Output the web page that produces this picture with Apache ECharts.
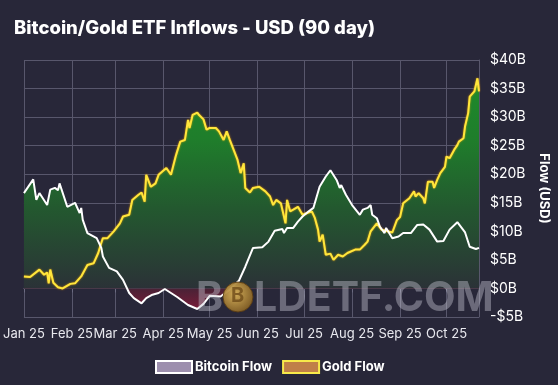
<!DOCTYPE html>
<html>
<head>
<meta charset="utf-8">
<script src="https://cdn.jsdelivr.net/npm/echarts@6/dist/echarts.min.js"></script>
<style>
html,body{margin:0;padding:0;background:#282739;}
#chart{width:558px;height:385px;}
</style>
</head>
<body>
<div id="chart"></div>
<script>
// ---- Data (90-day rolling ETF flows, billions USD) ----
var btcDates = ['2025-01-01','2025-01-07','2025-01-09','2025-01-11','2025-01-16','2025-01-18','2025-01-21','2025-01-23','2025-01-24','2025-01-29',
  '2025-02-03','2025-02-06','2025-02-07','2025-02-08','2025-02-11','2025-02-17','2025-02-20','2025-02-21','2025-02-25','2025-03-02',
  '2025-03-06','2025-03-10','2025-03-13','2025-03-18','2025-03-21','2025-03-25','2025-03-29','2025-04-02','2025-04-06','2025-04-10',
  '2025-04-17','2025-04-23','2025-04-27','2025-05-01','2025-05-08','2025-05-14','2025-05-20','2025-05-24','2025-05-29','2025-06-04',
  '2025-06-08','2025-06-12','2025-06-17','2025-06-18','2025-06-20','2025-06-24','2025-06-27','2025-06-30','2025-07-04','2025-07-07',
  '2025-07-11','2025-07-15','2025-07-18','2025-07-22','2025-07-24','2025-07-25','2025-07-28','2025-08-01','2025-08-06','2025-08-08',
  '2025-08-11','2025-08-13','2025-08-14','2025-08-17','2025-08-19','2025-08-22','2025-08-23','2025-08-27','2025-08-31','2025-09-03',
  '2025-09-08','2025-09-12','2025-09-16','2025-09-20','2025-09-25','2025-09-29','2025-10-03','2025-10-08','2025-10-13','2025-10-16',
  '2025-10-20','2025-10-22'];
var btcValues = [16.7,19.1,15.5,16.7,14.6,17.3,17.6,17.2,18.4,14.3,
  15.0,13.2,14.1,12.0,9.7,8.8,7.1,5.6,3.6,3.0,
  1.5,-0.8,-1.7,-2.6,-1.7,-1.1,-0.8,-0.1,-0.8,-1.5,
  -2.9,-3.6,-2.7,-1.3,-1.4,-0.2,1.4,3.8,7.1,7.2,
  8.2,10.1,10.4,9.7,10.6,10.6,11.7,12.6,13.5,14.1,
  17.8,19.6,20.7,19.0,17.6,18.1,16.4,14.6,12.9,13.8,
  14.1,14.6,12.9,12.3,10.8,9.7,10.6,8.8,9.1,9.7,
  9.7,11.1,11.2,10.3,8.2,8.3,10.3,11.6,9.8,7.3,
  6.9,7.1];

var goldDates = ['2025-01-01','2025-01-05','2025-01-11','2025-01-14','2025-01-16','2025-01-17','2025-01-18','2025-01-20','2025-01-23','2025-01-26',
  '2025-01-31','2025-02-03','2025-02-07','2025-02-11','2025-02-15','2025-02-18','2025-02-20','2025-02-21','2025-02-24','2025-02-28',
  '2025-03-04','2025-03-06','2025-03-10','2025-03-12','2025-03-16','2025-03-18','2025-03-20','2025-03-21','2025-03-24','2025-03-27',
  '2025-03-29','2025-04-03','2025-04-06','2025-04-07','2025-04-09','2025-04-10','2025-04-12','2025-04-15','2025-04-17','2025-04-18',
  '2025-04-20','2025-04-23','2025-04-24','2025-04-27','2025-04-29','2025-05-01','2025-05-05','2025-05-07','2025-05-10','2025-05-12',
  '2025-05-14','2025-05-16','2025-05-19','2025-05-21','2025-05-23','2025-05-24','2025-05-27','2025-05-29','2025-06-02','2025-06-06',
  '2025-06-09','2025-06-11','2025-06-13','2025-06-16','2025-06-19','2025-06-20','2025-06-22','2025-06-24','2025-06-27','2025-06-30',
  '2025-07-03','2025-07-06','2025-07-08','2025-07-10','2025-07-11','2025-07-13','2025-07-15','2025-07-18','2025-07-20','2025-07-23',
  '2025-07-26','2025-07-29','2025-08-03','2025-08-06','2025-08-09','2025-08-11','2025-08-13','2025-08-17','2025-08-20','2025-08-24',
  '2025-08-27','2025-08-30','2025-09-01','2025-09-03','2025-09-07','2025-09-10','2025-09-11','2025-09-13','2025-09-16','2025-09-17',
  '2025-09-19','2025-09-22','2025-09-23','2025-09-25','2025-09-27','2025-09-30','2025-10-01','2025-10-03','2025-10-06','2025-10-08',
  '2025-10-09','2025-10-12','2025-10-13','2025-10-15','2025-10-16','2025-10-19','2025-10-21','2025-10-22'];
var goldValues = [2.1,2.0,3.3,2.4,2.8,0.9,3.3,1.0,0.2,0.0,
  0.8,0.9,2.1,4.1,4.4,6.2,8.0,8.8,8.8,10.0,
  11.4,12.6,12.9,15.5,16.4,16.8,15.2,19.9,17.8,18.4,
  19.9,21.1,19.9,19.6,23.1,24.0,25.7,26.0,29.5,28.1,
  30.4,30.8,30.4,29.6,27.8,28.1,28.1,27.5,26.0,27.5,
  26.0,24.6,22.5,20.2,21.9,17.6,16.8,17.6,17.8,17.0,
  16.1,14.6,15.5,14.9,11.4,15.5,13.5,13.8,14.3,12.9,
  13.2,13.5,12.3,10.3,8.2,9.4,5.9,6.1,5.0,5.9,
  5.6,6.2,6.8,6.8,7.6,8.2,10.0,11.4,10.3,10.0,
  9.8,12.0,12.5,14.9,15.8,17.0,16.1,16.7,15.8,14.9,
  18.7,18.7,17.6,19.0,20.2,21.3,23.1,22.8,24.3,25.1,
  25.7,26.3,28.4,30.7,33.6,34.5,36.8,34.5];

var yTicks = [-5, 0, 5, 10, 15, 20, 25, 30, 35, 40];
var monthNames = ['Jan','Feb','Mar','Apr','May','Jun','Jul','Aug','Sep','Oct','Nov','Dec'];

function zip(d, v) { return d.map(function (x, i) { return [x, v[i]]; }); }
var btcData = zip(btcDates, btcValues);
var goldData = zip(goldDates, goldValues);

var chart = echarts.init(document.getElementById('chart'), null, {renderer: 'canvas'});
var FONT = 'Inter, "Noto Sans", sans-serif';

function fmtY(v) {
  if (v < 0) return '-$' + Math.abs(v) + 'B';
  return '$' + v + 'B';
}

var option = {
  backgroundColor: '#282739',
  animation: false,
  title: {
    text: 'Bitcoin/Gold ETF Inflows - USD (90 day)',
    left: 9, top: 14,
    textStyle: {color: '#ffffff', fontSize: 18.5, fontWeight: 800, fontFamily: FONT}
  },
  legend: {
    left: 150, top: 355,
    itemWidth: 36, itemHeight: 12, itemGap: 10,
    icon: 'rect',
    textStyle: {color: '#ffffff', fontSize: 13, fontWeight: 'bold', fontFamily: FONT, padding: [0,0,0,-2]},
    data: [
      {name: 'Bitcoin Flow', itemStyle: {color: '#9d8fae', borderColor: '#ffffff', borderWidth: 2}},
      {name: 'Gold Flow', itemStyle: {color: '#c07f48', borderColor: '#f7e94a', borderWidth: 2}}
    ]
  },
  grid: {left: 18, right: 79, top: 60, bottom: 68},
  xAxis: {
    type: 'time',
    min: '2025-01-01', max: '2025-10-22',
    minInterval: 28 * 86400000, maxInterval: 31 * 86400000,
    boundaryGap: false,
    axisLine: {show: true, lineStyle: {color: '#6b6a80', width: 1}},
    axisTick: {show: true, length: 4, lineStyle: {color: '#6b6a80'}},
    splitLine: {show: true, lineStyle: {color: '#58576c', width: 1}},
    axisLabel: {
      color: '#e8e8ee', fontSize: 13, fontFamily: FONT, margin: 11,
      showMinLabel: true, hideOverlap: false,
      formatter: function (val) {
        var d = new Date(val);
        return monthNames[d.getMonth()] + ' ' + String(d.getFullYear()).slice(2);
      }
    }
  },
  yAxis: {
    type: 'value', position: 'right',
    min: yTicks[0], max: yTicks[yTicks.length - 1], interval: 5,
    name: 'Flow (USD)', nameLocation: 'middle', nameRotate: -90, nameGap: 55,
    nameTextStyle: {color: '#ffffff', fontSize: 13, fontWeight: 'bold', fontFamily: FONT},
    axisLine: {show: true, lineStyle: {color: '#58576c'}},
    axisTick: {show: false},
    splitLine: {show: true, lineStyle: {color: '#58576c', width: 1}},
    axisLabel: {color: '#ffffff', fontSize: 14, fontFamily: FONT, margin: 11, formatter: fmtY}
  },
  series: [
    {name: 'Gold Flow', type: 'line', data: goldData, showSymbol: false, symbol: 'none',
      lineStyle: {width: 0}, areaStyle: {origin: 0, opacity: 1}, z: 1, silent: true},
    {name: 'Bitcoin Flow', type: 'line', data: btcData, showSymbol: false, symbol: 'none',
      lineStyle: {width: 0}, areaStyle: {origin: 0, opacity: 1}, z: 1, silent: true},
    {name: 'Gold Flow', type: 'line', data: goldData, showSymbol: false, symbol: 'none',
      lineStyle: {width: 2, color: '#ffe63c', shadowColor: 'rgba(255,170,0,0.8)', shadowBlur: 2},
      itemStyle: {color: '#c07f48'}, z: 3},
    {name: 'Bitcoin Flow', type: 'line', data: btcData, showSymbol: false, symbol: 'none',
      lineStyle: {width: 2, color: '#ffffff'}, itemStyle: {color: '#9d8fae'}, z: 4}
  ]
};
chart.setOption(option);

// Build the shared vertical gradient in chart pixel space (green above 0, red below)
var yTop = chart.convertToPixel({yAxisIndex: 0}, yTicks[yTicks.length - 1]);
var yBot = chart.convertToPixel({yAxisIndex: 0}, yTicks[0]);
var yZero = chart.convertToPixel({yAxisIndex: 0}, 0);
var f0 = (yZero - yTop) / (yBot - yTop);
function grad() {
  return new echarts.graphic.LinearGradient(0, yTop, 0, yBot, [
    {offset: 0, color: '#1d8f2b'},
    {offset: f0 * 0.35, color: '#1f7d2b'},
    {offset: f0 * 0.65, color: '#23582f'},
    {offset: f0 * 0.999, color: '#2b3237'},
    {offset: Math.min(1, f0 + 0.001), color: '#4a2236'},
    {offset: 1, color: '#8a1a3a'}
  ], true);
}

// Watermark
var wmColor = 'rgba(200,200,212,0.42)';
chart.setOption({
  series: [
    {areaStyle: {color: grad()}},
    {areaStyle: {color: grad()}},
    {}, {}
  ],
  graphic: [
    {type: 'text', left: 196, top: 278, z: 50, silent: true,
      style: {text: 'B', fill: wmColor, font: 'bold 41px ' + FONT}},
    {type: 'circle', shape: {cx: 238, cy: 297, r: 15}, z: 50, silent: true,
      style: {fill: new echarts.graphic.RadialGradient(0.4, 0.4, 0.7, [
        {offset: 0, color: 'rgba(220,180,90,0.95)'},
        {offset: 1, color: 'rgba(120,85,30,0.95)'}]), stroke: 'rgba(90,60,20,0.9)', lineWidth: 1}},
    {type: 'text', left: 231, top: 286, z: 51, silent: true,
      style: {text: 'B', fill: 'rgba(110,75,25,0.8)', font: 'bold 20px ' + FONT}},
    {type: 'text', left: 254, top: 278, z: 50, silent: true,
      style: {text: 'LDETF.COM', fill: wmColor, font: 'bold 41px ' + FONT}}
  ]
});
</script>
</body>
</html>
